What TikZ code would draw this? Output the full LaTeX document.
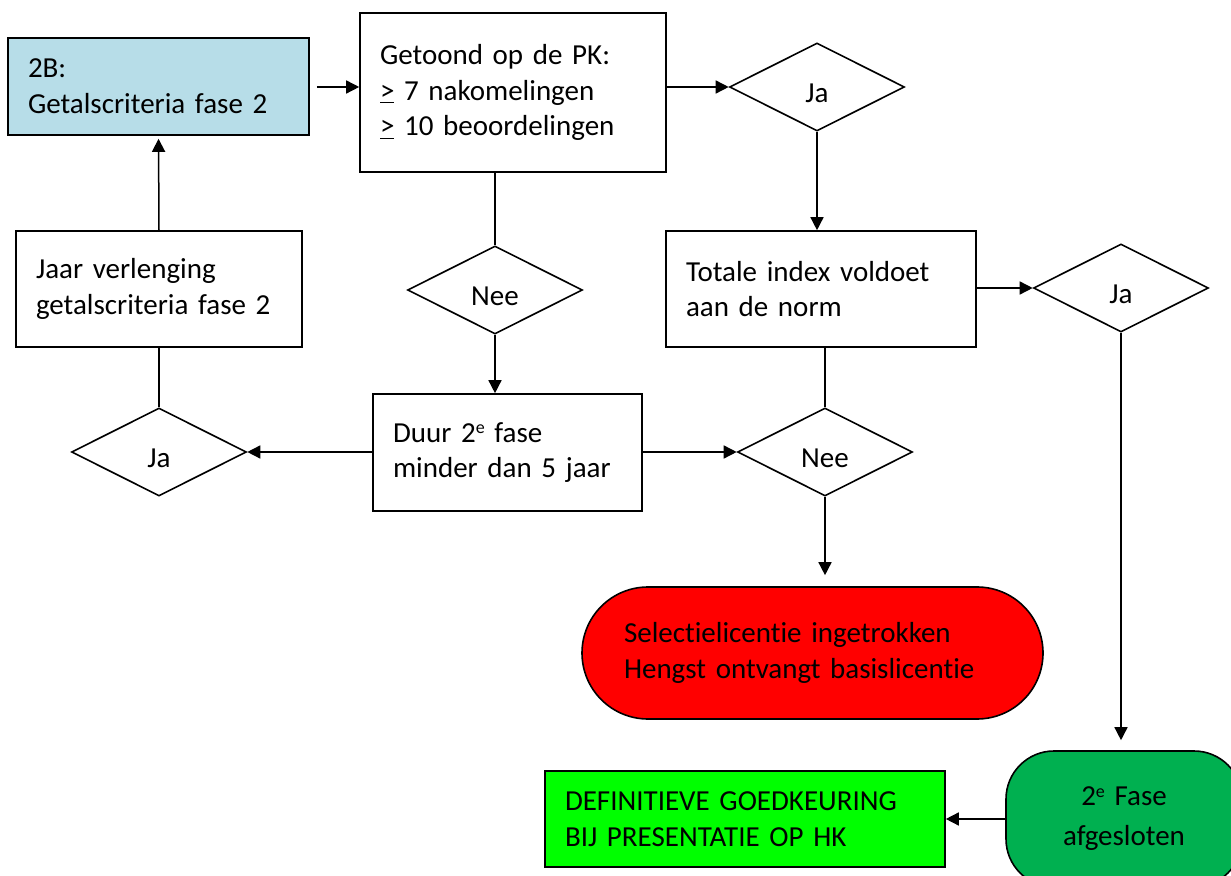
\documentclass[tikz,border=0pt]{standalone}
\usepackage{fontspec}
\setmainfont{Carlito}[Ligatures=NoCommon]
\usetikzlibrary{shapes.geometric,arrows.meta,calc}
\definecolor{lblue}{HTML}{B7DDE8}
\definecolor{dgreen}{HTML}{00B050}
\definecolor{bgreen}{HTML}{00FF00}
\newcommand\supE{\raisebox{0.62ex}{\fontsize{9}{9}\selectfont e}}
\begin{document}
\begin{tikzpicture}[x=0.5pt,y=-0.5pt,
  txt/.style={font=\fontsize{14.5}{17.8}\selectfont},
  box/.style={draw, rectangle, line width=0.8pt, inner xsep=10pt, inner ysep=0pt, align=left, txt},
  dia/.style={draw, diamond, line width=0.8pt, inner sep=0pt, minimum width=87.5pt, minimum height=44pt},
  dlabel/.style={txt, inner sep=0pt},
  arr/.style={-{Triangle[length=6.5pt,width=6.5pt]}, line width=0.75pt},
  ln/.style={line width=0.75pt}]
\useasboundingbox (0,0) rectangle (1231,876);
\fill[white] (0,0) rectangle (1231,876);

% boxes
\node[box, fill=lblue, text width=130.5pt, minimum height=48.5pt] (b2B) at (158.5,86.5) {2B:\\Getalscriteria fase 2};
\node[box, text width=133pt, minimum height=79.5pt] (getoond) at (513,92.5) {Getoond op de PK:\\\underline{>} 7 nakomelingen\\\underline{>} 10 beoordelingen};
\node[box, text width=123pt, minimum height=58pt] (jaar) at (159,289) {Jaar verlenging\\getalscriteria fase 2};
\node[box, text width=135pt, minimum height=58pt] (totale) at (821,289) {Totale index voldoet\\aan de norm};
\node[box, text width=114.5pt, minimum height=58.5pt] (duur) at (507.5,452.5) {Duur 2\supE{} fase\\minder dan 5 jaar};
\node[box, fill=red, rounded corners=33pt, inner xsep=21pt, text width=188.5pt, minimum height=66pt] (redbox) at (812.5,653) {Selectielicentie ingetrokken\\Hengst ontvangt basislicentie};
\node[box, fill=bgreen, text width=180pt, minimum height=48pt] (def) at (745,819) {DEFINITIEVE GOEDKEURING\\BIJ PRESENTATIE OP HK};
\begin{scope}
\clip (0,0) rectangle (1231,876);
\node[box, fill=dgreen, rounded corners=24pt, align=center, text width=98pt, minimum height=68pt, font=\fontsize{14.5}{20}\selectfont] (fase2) at (1124,819) {2\supE{} Fase\\afgesloten};
\end{scope}

% diamonds
\node[dia] (j1) at (817,87) {};
\node[dia] (nee1) at (495,290) {};
\node[dia] (j2) at (1121,288) {};
\node[dia] (nee2) at (825,452) {};
\node[dia] (j3) at (159,452) {};
\node[dlabel] at ($(j1)+(0,6)$) {Ja};
\node[dlabel] at ($(nee1)+(0,6)$) {Nee};
\node[dlabel] at ($(j2)+(0,6)$) {Ja};
\node[dlabel] at ($(nee2)+(0,6)$) {Nee};
\node[dlabel] at ($(j3)+(0,6)$) {Ja};

% connectors
\draw[arr, shorten <=3.5pt] (b2B.east |- j1) -- (getoond.west |- j1);
\draw[arr] (getoond.east |- j1) -- (j1.west);
\draw[arr] (j1.south) -- (j1.south |- totale.north);
\draw[arr] (totale.east |- j2) -- (j2.west);
\draw[arr, shorten >=5pt] (j2.south) -- (j2.south |- fase2.north);
\draw[arr] (fase2.west |- def.east) -- (def.east);
\draw[ln] (nee1.north |- getoond.south) -- (nee1.north);
\draw[arr] (nee1.south) -- (nee1.south |- duur.north);
\draw[arr] (duur.east |- nee2) -- (nee2.west);
\draw[arr] (duur.west |- j3) -- (j3.east);
\draw[ln] (j3.north) -- (j3.north |- jaar.south);
\draw[arr, shorten >=1.5pt] (jaar.north) -- (b2B.south);
\draw[ln] (nee2.north |- totale.south) -- (nee2.north);
\draw[arr, shorten >=5.5pt] (nee2.south) -- (nee2.south |- redbox.north);
\end{tikzpicture}
\end{document}
